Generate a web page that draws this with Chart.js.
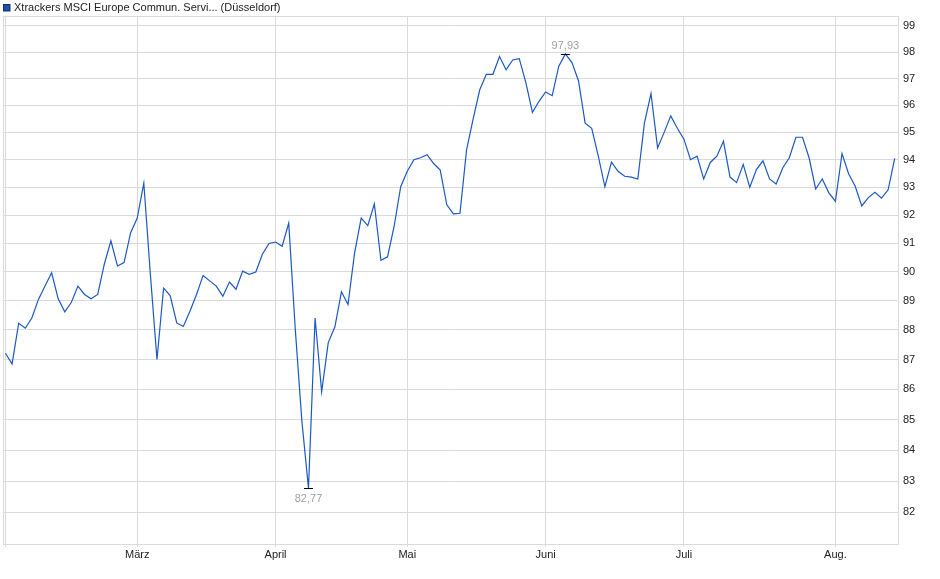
<!DOCTYPE html>
<html lang="de">
<head>
  <meta charset="UTF-8" />
  <title>Xtrackers MSCI Europe Commun. Servi... (Düsseldorf)</title>
  <script src="https://cdn.jsdelivr.net/npm/chart.js"></script>
  <style>
    html, body { margin: 0; padding: 0; background: #fff; }
    #wrap { position: relative; width: 940px; height: 579px; }
  </style>
</head>
<body>
  <div id="wrap"><canvas id="kursChart"></canvas></div>

  <script>
    const seriesName = 'Xtrackers MSCI Europe Commun. Servi... (Düsseldorf)';

    // closing prices, one per trading day (Feb - mid Aug)
    const prices = [
      87.21, 86.85, 88.23, 88.06, 88.41, 89.05, 89.51, 89.97, 89.07, 88.62,
      88.95, 89.51, 89.22, 89.07, 89.22, 90.27, 91.09, 90.21, 90.33, 91.38,
      91.90, 93.15, 89.90, 87.00, 89.44, 89.18, 88.24, 88.12, 88.64, 89.22,
      89.88, 89.69, 89.51, 89.16, 89.65, 89.40, 90.03, 89.92, 90.00, 90.62,
      91.00, 91.05, 90.90, 91.72, 88.01, 84.94, 82.77, 88.41, 85.92, 87.57,
      88.10, 89.31, 88.87, 90.67, 91.90, 91.63, 92.40, 90.41, 90.53, 91.60,
      93.02, 93.58, 94.00, 94.07, 94.18, 93.86, 93.62, 92.37, 92.05, 92.07,
      94.36, 95.50, 96.58, 97.16, 97.16, 97.83, 97.33, 97.70, 97.75, 96.85,
      95.74, 96.15, 96.50, 96.36, 97.47, 97.93, 97.60, 96.91, 95.34, 95.15,
      94.13, 93.02, 93.91, 93.58, 93.40, 93.37, 93.30, 95.34, 96.44, 94.43,
      95.00, 95.61, 95.15, 94.75, 94.00, 94.13, 93.30, 93.90, 94.13, 94.67,
      93.37, 93.17, 93.83, 93.00, 93.64, 93.96, 93.30, 93.12, 93.70, 94.07,
      94.82, 94.82, 94.07, 92.94, 93.30, 92.80, 92.50, 94.22, 93.49, 93.04,
      92.33, 92.63, 92.82, 92.61, 92.91, 94.05
    ];

    // index of the first trading day of each month
    const monthIdx = [0, 20, 41, 61, 82, 103, 126];
    const monthLabels = ['', 'März', 'April', 'Mai', 'Juni', 'Juli', 'Aug.'];

    const yTicks = [82, 83, 84, 85, 86, 87, 88, 89, 90, 91, 92, 93, 94, 95, 96, 97, 98, 99];

    const LINE = '#1c58c2';
    const GRID = '#dadada';

    Chart.defaults.font.family = '"Liberation Sans", Arial, sans-serif';
    Chart.defaults.font.size = 11;
    Chart.defaults.color = '#222';

    // legend box, plot frame and min/max markers
    const decorations = {
      id: 'decorations',
      beforeDraw(chart) {
        const { ctx } = chart;
        ctx.save();
        ctx.fillStyle = '#1f4fae';
        ctx.fillRect(3.5, 4.5, 6.5, 6.5);
        ctx.strokeStyle = '#1a2f60';
        ctx.lineWidth = 1;
        ctx.strokeRect(3.5, 4.5, 6.5, 6.5);
        ctx.fillStyle = '#222';
        ctx.font = '11px "Liberation Sans", Arial, sans-serif';
        ctx.textBaseline = 'middle';
        ctx.fillText(seriesName, 14, 8);
        ctx.restore();
      },
      afterDraw(chart) {
        const { ctx, chartArea: a } = chart;
        ctx.save();
        ctx.strokeStyle = GRID;
        ctx.lineWidth = 1;
        ctx.strokeRect(Math.round(a.left) + 0.5, Math.round(a.top) + 0.5,
                       Math.round(a.right - a.left), Math.round(a.bottom - a.top));

        const xs = chart.scales.x, ys = chart.scales.y;
        const hi = prices.indexOf(Math.max(...prices));
        const lo = prices.indexOf(Math.min(...prices));
        ctx.font = '11px "Liberation Sans", Arial, sans-serif';
        ctx.textAlign = 'center';
        ctx.textBaseline = 'middle';
        [[hi, -9], [lo, 10]].forEach(([i, dy]) => {
          const px = xs.getPixelForValue(i);
          const py = Math.round(ys.getPixelForValue(prices[i])) + 0.5;
          ctx.strokeStyle = '#000';
          ctx.beginPath();
          ctx.moveTo(px - 4.5, py);
          ctx.lineTo(px + 4.5, py);
          ctx.stroke();
          ctx.fillStyle = '#a0a0a0';
          ctx.fillText(prices[i].toFixed(2).replace('.', ','), px, py + dy);
        });
        ctx.restore();
      }
    };

    new Chart(document.getElementById('kursChart'), {
      type: 'line',
      data: {
        datasets: [{
          label: seriesName,
          data: prices.map((v, i) => ({ x: i, y: v })),
          borderColor: LINE,
          borderWidth: 1.2,
          pointRadius: 0,
          tension: 0,
          fill: false
        }]
      },
      options: {
        responsive: true,
        maintainAspectRatio: false,
        animation: false,
        layout: { padding: { top: 16, left: 3, right: 0, bottom: 0 } },
        plugins: {
          legend: { display: false },
          tooltip: { enabled: false }
        },
        scales: {
          x: {
            type: 'linear',
            min: -0.38,
            max: 135.5,
            afterBuildTicks: s => { s.ticks = monthIdx.map(v => ({ value: v })); },
            afterFit: s => { s.height = 35; },
            grid: { color: GRID, tickLength: 3, tickColor: GRID },
            border: { display: false },
            ticks: {
              autoSkip: false,
              maxRotation: 0,
              padding: 1,
              callback: v => monthLabels[monthIdx.indexOf(v)]
            }
          },
          y: {
            type: 'logarithmic',
            position: 'right',
            min: 81.0,
            max: 99.38,
            afterBuildTicks: s => { s.ticks = yTicks.map(v => ({ value: v })); },
            afterFit: s => { s.width = 42; },
            grid: { color: GRID, drawTicks: false },
            border: { display: false },
            ticks: {
              autoSkip: false,
              padding: 5,
              callback: v => String(v)
            }
          }
        }
      },
      plugins: [decorations]
    });
  </script>
</body>
</html>
